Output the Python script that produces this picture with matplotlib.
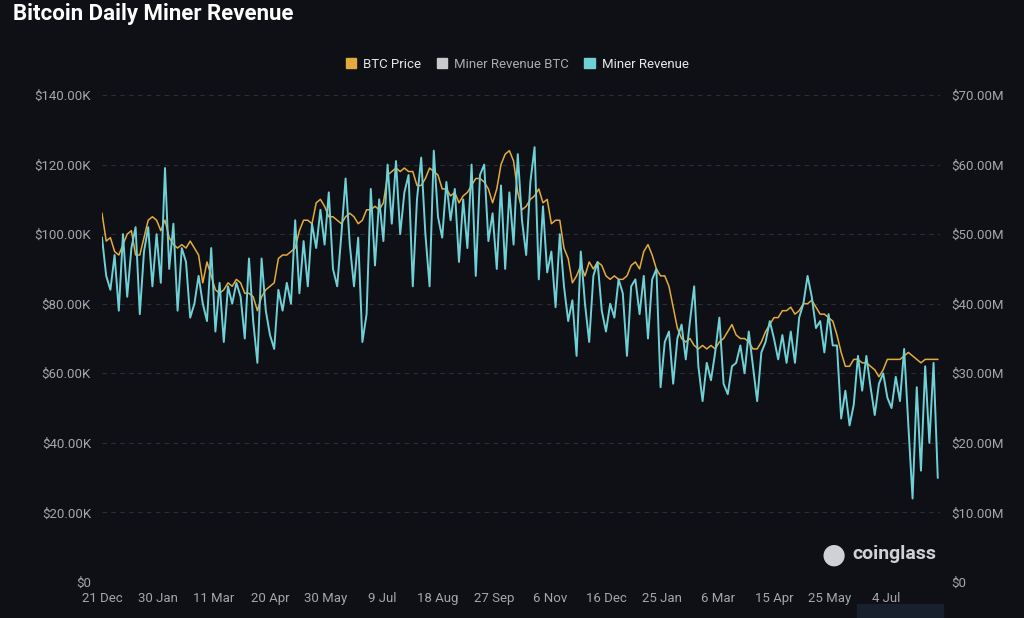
import pandas as pd
import matplotlib
matplotlib.use("Agg")
import matplotlib.pyplot as plt
from matplotlib.patches import Patch, Rectangle
from matplotlib.ticker import FuncFormatter

# one sample every 3 days starting 21 Dec 2024
start_date = "2024-12-21"
step_days = 3

# BTC price, $K
btc_price = [
    106, 98, 99, 95, 94, 97, 100, 101, 94, 94,
    99, 104, 105, 104, 101, 104, 99, 97, 96, 97,
    96, 98, 96, 94, 86, 92, 88, 84, 83, 84,
    86, 85, 87, 86, 83, 83, 82, 78, 82, 84,
    85, 86, 93, 94, 94, 95, 96, 101, 104, 104,
    103, 109, 110, 108, 105, 105, 104, 103, 105, 106,
    105, 103, 104, 107, 107, 108, 107, 109, 117, 118,
    119, 118, 119, 118, 118, 114, 114, 116, 119, 118,
    117, 113, 113, 111, 112, 109, 111, 112, 114, 116,
    116, 115, 113, 109, 113, 120, 123, 124, 121, 112,
    107, 108, 110, 111, 113, 109, 110, 103, 104, 104,
    96, 93, 86, 88, 91, 88, 92, 90, 92, 91,
    88, 87, 88, 87, 87, 88, 91, 92, 90, 95,
    97, 94, 90, 88, 88, 85, 79, 73, 70, 69,
    70, 68, 67, 68, 67, 68, 67, 69, 70, 72,
    74, 71, 70, 70, 69, 67, 67, 69, 72, 74,
    76, 76, 78, 78, 79, 77, 78, 80, 80, 81,
    79, 77, 77, 76, 75, 71, 66, 62, 62, 64,
    64, 63, 63, 62, 61, 59, 61, 64, 64, 64,
    64, 65, 66, 65, 64, 63, 64, 64, 64, 64,
]

# miner revenue, $M
miner_revenue = [
    49.5, 44, 42, 47, 39, 50, 41, 48, 51, 38.5,
    47.5, 51, 42.5, 50, 43, 59.5, 45, 51.5, 39, 48,
    46, 38, 40, 44, 40, 37.5, 48, 36, 43, 34.5,
    42.5, 40, 43, 41, 35, 46.5, 37.5, 31.5, 46.5, 39,
    35.5, 33.5, 42, 39, 43, 40, 52, 41.5, 49, 42.5,
    51.5, 48, 53.5, 48.5, 56, 45, 42.5, 50, 58, 48.5,
    42.5, 49.5, 34.5, 38.5, 56.5, 45.5, 55, 49, 60, 51.5,
    60.5, 50, 56, 58.5, 42.5, 55, 61, 50, 42.5, 62,
    52.5, 49.5, 57.5, 52, 56.5, 46, 55, 48, 60, 44,
    58.5, 60, 49, 53, 45, 57, 45, 56, 48.5, 61.5,
    52, 47, 57.5, 62.5, 43.5, 54, 44.5, 47.5, 39.5, 50,
    42.5, 37.5, 40.5, 32.5, 47.5, 40, 34.5, 44, 46, 39,
    36, 40, 38, 43.5, 41.5, 32.5, 42.5, 43.5, 38.5, 44,
    35, 43.5, 45, 28, 34.5, 36, 28.5, 35, 37, 32,
    37.5, 42.5, 31, 26, 31.5, 29, 33, 38, 28.5, 27,
    31, 31.5, 34, 30, 36, 31, 26, 33, 34.5, 37.5,
    35, 32, 35.5, 31.5, 36, 31.5, 38, 40, 44, 41,
    36.5, 37.5, 33, 38.5, 34, 34, 23.5, 27.5, 22.5, 25.5,
    32.5, 27.5, 32.5, 28, 24, 28.5, 30, 26.5, 25, 29.5,
    26, 33.5, 22.5, 12, 28, 16, 31, 20, 31.5, 15,
]

legend_labels = ["BTC Price", "Miner Revenue BTC", "Miner Revenue"]
price_ticks = [0, 20, 40, 60, 80, 100, 120, 140]
revenue_ticks = [0, 10, 20, 30, 40, 50, 60, 70]
date_tick_step = 40
date_tick_count = 15

bg = "#0e1015"
grid_c = "#2a2e37"
tick_c = "#a3a6ab"
orange = "#e3ab3f"
cyan = "#6fd0d6"
grey = "#c9cacc"

plt.rcParams["font.family"] = ["Roboto", "DejaVu Sans"]

dates = pd.date_range(start_date, periods=len(btc_price), freq=f"{step_days}D")
t0 = pd.Timestamp(start_date)
tick_dates = [t0 + pd.Timedelta(days=date_tick_step * k) for k in range(date_tick_count)]

fig = plt.figure(figsize=(10.24, 6.18), dpi=100, facecolor=bg)
ax = fig.add_axes([102 / 1024, 1 - 582 / 618, 838 / 1024, 487 / 618])
ax.set_facecolor(bg)
ax2 = ax.twinx()

ax.plot(dates, btc_price, color=orange, lw=1.1, zorder=3)
ax2.plot(dates, miner_revenue, color=cyan, lw=1.4, zorder=3)

ax.set_ylim(0, 140)
ax2.set_ylim(0, 70)
ax.set_xlim(t0, t0 + pd.Timedelta(days=598.6))

ax.set_yticks(price_ticks)
ax2.set_yticks(revenue_ticks)
ax.yaxis.set_major_formatter(FuncFormatter(lambda v, p: "$0" if v == 0 else f"${v:.2f}K"))
ax2.yaxis.set_major_formatter(FuncFormatter(lambda v, p: "$0" if v == 0 else f"${v:.2f}M"))
ax.set_xticks(tick_dates)
ax.set_xticklabels([f"{d.day} {d.strftime('%b')}" for d in tick_dates])

ax.grid(axis="y", color=grid_c, lw=0.8, ls=(0, (4, 4)))
ax.grid(axis="x", visible=False)
for a in (ax, ax2):
    for s in a.spines.values():
        s.set_visible(False)
ax.tick_params(axis="y", length=0, pad=8, labelsize=9.5, labelcolor=tick_c)
ax2.tick_params(axis="y", length=0, pad=8, labelsize=9.5, labelcolor=tick_c)
ax.tick_params(axis="x", length=0, pad=7, labelsize=9.5, labelcolor=tick_c)

fig.text(13 / 1024, 1 - 14 / 618, "Bitcoin Daily Miner Revenue", color="white",
         fontsize=16, fontweight="bold", ha="left", va="center")

handles = [Patch(color=orange), Patch(color=grey), Patch(color=cyan)]
leg = fig.legend(handles, legend_labels, loc="center", bbox_to_anchor=(517 / 1024, 1 - 64 / 618),
                 ncol=3, frameon=False, fontsize=9.5, handlelength=0.8, handleheight=0.8,
                 handletextpad=0.5, columnspacing=1.2)
for txt, c in zip(leg.get_texts(), ["#e6e7e9", "#a9abaf", "#e6e7e9"]):
    txt.set_color(c)

# watermark and zoom-slider stub
fig.text(852 / 1024, 1 - 554 / 618, "coinglass", color="#cfd1d4", fontsize=14,
         fontweight="bold", ha="left", va="center")
fig.text(834 / 1024, 1 - 555 / 618, "\u25CF", color="#cfd1d4", fontsize=20,
         ha="center", va="center")
fig.patches.append(Rectangle((857 / 1024, 0), 86 / 1024, 14 / 618, transform=fig.transFigure,
                             color="#18202e", zorder=0))

fig.savefig("out.png", dpi=100, facecolor=bg)
